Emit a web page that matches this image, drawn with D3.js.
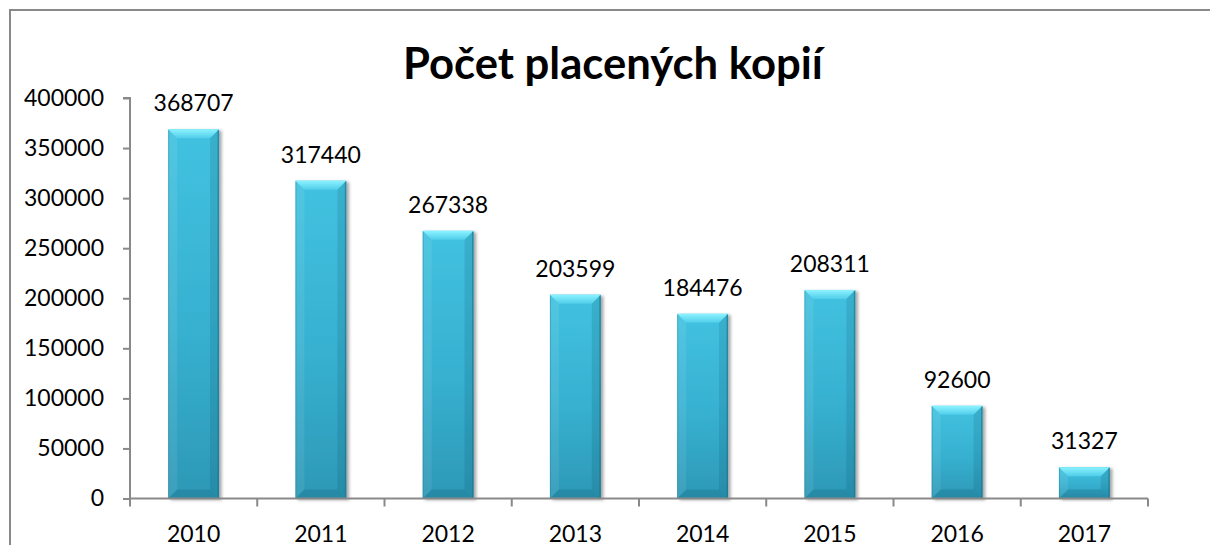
<!DOCTYPE html>
<html>
<head>
<meta charset="utf-8">
<script src="https://cdn.jsdelivr.net/npm/d3@7"></script>
<style>
  body { margin: 0; background: #fff; }
  svg { display: block; }
  text { font-family: Lato, "Open Sans", sans-serif; fill: #000; }
</style>
</head>
<body>
<div id="chart"></div>
<script>
// data
var years = ["2010", "2011", "2012", "2013", "2014", "2015", "2016", "2017"];
var copies = [368707, 317440, 267338, 203599, 184476, 208311, 92600, 31327];
var yTicks = [0, 50000, 100000, 150000, 200000, 250000, 300000, 350000, 400000];
var title = "Počet placených kopií";

var width = 1210, height = 545;
var plotLeft = 130, plotRight = 1148, plotTop = 98, plotBottom = 498.5;
var bevel = 9;

var svg = d3.select("#chart").append("svg")
  .attr("width", width)
  .attr("height", height);

var defs = svg.append("defs");

var bodyGrad = defs.append("linearGradient")
  .attr("id", "barBody").attr("x1", 0).attr("y1", 0).attr("x2", 0).attr("y2", 1);
bodyGrad.append("stop").attr("offset", "0%").attr("stop-color", "#42c2e0");
bodyGrad.append("stop").attr("offset", "55%").attr("stop-color", "#37b0d0");
bodyGrad.append("stop").attr("offset", "100%").attr("stop-color", "#2d98b6");

var topGrad = defs.append("linearGradient")
  .attr("id", "barTop").attr("x1", 0).attr("y1", 0).attr("x2", 0).attr("y2", 1);
topGrad.append("stop").attr("offset", "0%").attr("stop-color", "#8cf3ff");
topGrad.append("stop").attr("offset", "100%").attr("stop-color", "#50cdea");

var shadow = defs.append("filter").attr("id", "barShadow")
  .attr("x", "-20%").attr("y", "-5%").attr("width", "150%").attr("height", "115%");
shadow.append("feDropShadow")
  .attr("dx", 2.5).attr("dy", 1.5).attr("stdDeviation", 1.8)
  .attr("flood-color", "#000").attr("flood-opacity", 0.35);

// outer chart border (only left and top edges are visible)
svg.append("rect")
  .attr("x", 10).attr("y", 10)
  .attr("width", width + 20).attr("height", height + 20)
  .attr("fill", "#fff")
  .attr("stroke", "#898989")
  .attr("stroke-width", 2);

var x = d3.scaleBand()
  .domain(years)
  .range([plotLeft, plotRight])
  .paddingInner(0.6)
  .paddingOuter(0.3);

var y = d3.scaleLinear()
  .domain([0, 400000])
  .range([plotBottom, plotTop]);

// title
var titleText = svg.append("text")
  .attr("x", 613)
  .attr("y", 79)
  .attr("text-anchor", "middle")
  .style("font-weight", "bold")
  .style("font-size", "40px")
  .text(title);
var tl = titleText.node().getComputedTextLength();
titleText.style("font-size", (40 * 420 / tl) + "px");

// y axis
var yAxis = svg.append("g")
  .attr("transform", "translate(" + plotLeft + ",0)")
  .call(d3.axisLeft(y).tickValues(yTicks).tickSize(7).tickPadding(19).tickFormat(d3.format("d")));
yAxis.select(".domain").attr("stroke", "#898989").attr("stroke-width", 2)
  .attr("d", "M-7," + plotTop + "H0V" + plotBottom);
yAxis.selectAll(".tick line").attr("stroke", "#898989").attr("stroke-width", 2);
yAxis.selectAll(".tick text")
  .style("font-size", "23px")
  .style("font-family", "Lato, sans-serif")
  .attr("fill", "#000");

var grp = svg.append("g");

years.forEach(function(yr, i) {
  var x0 = x(yr), w = x.bandwidth();
  var y0 = y(copies[i]), y1 = y(0);
  var h = y1 - y0;
  var b = Math.min(bevel, h / 3);
  var g = grp.append("g").attr("filter", "url(#barShadow)");

  g.append("rect")
    .attr("x", x0).attr("y", y0)
    .attr("width", w).attr("height", h)
    .attr("fill", "url(#barBody)");

  // top bevel
  g.append("polygon")
    .attr("points", [[x0, y0], [x0 + w, y0], [x0 + w - b, y0 + b], [x0 + b, y0 + b]].join(" "))
    .attr("fill", "url(#barTop)");
  // left bevel
  g.append("polygon")
    .attr("points", [[x0, y0], [x0 + b, y0 + b], [x0 + b, y1 - b], [x0, y1]].join(" "))
    .attr("fill", "#ffffff").attr("fill-opacity", 0.08);
  // right bevel
  g.append("polygon")
    .attr("points", [[x0 + w, y0], [x0 + w - b, y0 + b], [x0 + w - b, y1 - b], [x0 + w, y1]].join(" "))
    .attr("fill", "#0a4a60").attr("fill-opacity", 0.15);
  // bottom bevel
  g.append("polygon")
    .attr("points", [[x0, y1], [x0 + b, y1 - b], [x0 + w - b, y1 - b], [x0 + w, y1]].join(" "))
    .attr("fill", "#0a4a60").attr("fill-opacity", 0.18);
  // thin dark edges on the sides
  g.append("rect")
    .attr("x", x0 + w - 1.5).attr("y", y0 + 1)
    .attr("width", 1.5).attr("height", h - 1)
    .attr("fill", "#1d6f86").attr("fill-opacity", 0.6);
  g.append("rect")
    .attr("x", x0).attr("y", y0 + 1)
    .attr("width", 1).attr("height", h - 1)
    .attr("fill", "#1d6f86").attr("fill-opacity", 0.35);

  // value label
  svg.append("text")
    .attr("x", x0 + w / 2)
    .attr("y", y0 - 18)
    .attr("text-anchor", "middle")
    .style("font-size", "23px")
    .text(copies[i]);
});

// x axis
var xAxis = svg.append("g")
  .attr("transform", "translate(0," + plotBottom + ")")
  .call(d3.axisBottom(x).tickSize(0).tickPadding(0));
xAxis.select(".domain").attr("stroke", "#898989").attr("stroke-width", 2)
  .attr("d", "M" + plotLeft + ",0H" + plotRight);
xAxis.selectAll(".tick line").remove();
xAxis.selectAll(".tick text")
  .attr("y", 43)
  .attr("dy", null)
  .style("font-size", "23px")
  .style("font-family", "Lato, sans-serif")
  .attr("fill", "#000");
// category boundary ticks
var bounds = years.map(function(d, i) { return plotLeft + i * x.step(); }).concat([plotRight]);
xAxis.selectAll(".bound").data(bounds).enter().append("line")
  .attr("class", "bound")
  .attr("x1", function(d) { return d; }).attr("x2", function(d) { return d; })
  .attr("y1", 0).attr("y2", 8)
  .attr("stroke", "#898989").attr("stroke-width", 2);
</script>
</body>
</html>
